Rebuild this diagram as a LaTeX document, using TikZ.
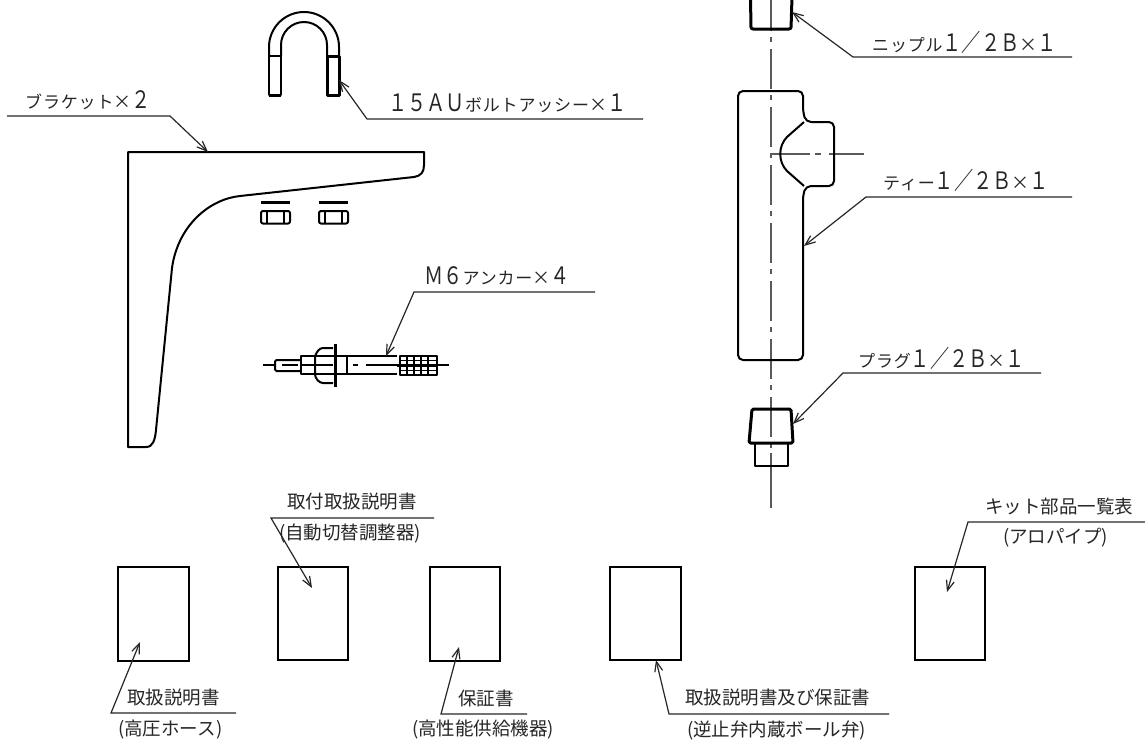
\documentclass[tikz,border=0pt]{standalone}
\usepackage{fontspec}
\usetikzlibrary{arrows.meta}
\newfontfamily\jpfont{Noto Sans CJK JP}
\newfontfamily\jpspaced[LetterSpace=5]{Noto Sans CJK JP}
\newfontfamily\jpnarrow[FakeStretch=0.8]{Noto Sans CJK JP}
\newcommand{\kana}[1]{{\fontsize{17}{18}\jpspaced #1}}
\newcommand{\wide}[1]{{\fontsize{24}{26}\jpnarrow #1}}
\newcommand{\mult}{{\fontsize{18}{20}\jpfont ×}}
\tikzset{
  part/.style={line width=2pt, line join=round},
  heavy/.style={line width=3pt, line join=round},
  center line/.style={line width=1.4pt, black!65},
  leader/.style={line width=1.2pt, black!85, -{Straight Barb[length=10pt,width=8pt]}},
  docbox/.style={draw, line width=2pt, minimum width=70pt, minimum height=93pt, inner sep=0pt},
  label/.style={inner sep=0pt, font=\fontsize{18.5}{20}\jpfont, black!85}
}
\begin{document}
\begin{tikzpicture}[x=1pt,y=-1pt]
\useasboundingbox (0,0) rectangle (1145,744);

% U bolt
\draw[part] (269,56) -- (269,47) arc (180:360:35) -- (339,56);
\draw[part] (281,56) -- (281,45) arc (180:360:23) -- (327,56);
\draw[part] (269,56) rectangle (281,95);
\draw[heavy] (327,56) rectangle (339,95);
\draw[heavy] (269,95) -- (281,95);

% bracket
\draw[part] (128,152) -- (424,152) -- (424,165) .. controls (424,172) and (421,176) .. (414,177)
  -- (240,196) .. controls (210,199) and (178,225) .. (172,268)
  -- (156,430) .. controls (155,440) and (153,447) .. (146,447) -- (128,447) -- cycle;

% nuts
\foreach \nx in {261,319} {
  \draw[heavy] (\nx,202) -- (\nx+29,202);
  \draw[part, rounded corners=2pt] (\nx,211) rectangle (\nx+29,223.5);
  \draw[part] (\nx+6,211) -- (\nx+6,223.5) (\nx+23,211) -- (\nx+23,223.5);
}

% anchor
\draw[part, rounded corners=1.5pt] (301,360) -- (275,360) -- (275,371) -- (301,371);
\draw[part] (301,356) rectangle (347,374);
\draw[part] (347,356) -- (397,356) (347,374) -- (397,374);
\draw[part, rounded corners=3pt] (333,348) -- (320,348) -- (315,355) -- (315,377) -- (320,383) -- (333,383);
\draw[part] (316,365) -- (333,365);
\draw[heavy] (335,344) -- (335,387);
\draw[part] (400,356) rectangle (437,375);
\foreach \rx in {407,414,421,428}
  \draw[part] (\rx,356) -- (\rx,375);
\draw[line width=1pt] (400,360.5) -- (437,360.5) (400,370.5) -- (437,370.5);
\draw[line width=3pt] (397,365.5) -- (437,365.5);
\draw[line width=1.2pt] (263,365) -- (275,365) (282,365) -- (298,365) (302,365) -- (315,365)
  (353,365) -- (358,365) (366,365) -- (397,365) (437,365) -- (449,365);

% pipe centre lines
\draw[center line, dash pattern=on 40pt off 6pt on 5pt off 7pt] (771,-9) -- (771,450);
\draw[center line] (771,453) -- (771,508);
\draw[center line, dash pattern=on 39pt off 5pt on 6pt off 8pt] (771,154) -- (864,154);

% nipple
\draw[heavy, rounded corners=2pt] (750.5,-3) -- (751,29) -- (791,29) -- (792,-3);

% tee
\draw[part, rounded corners=5pt] (771,91) -- (738,91) -- (738,360) -- (803,360) -- (803,195)
  -- (806,186) -- (834,186) -- (834,122) -- (806,122) -- (803,112) -- (803,91) -- cycle;
\draw[part] (804,122) -- (787,137) .. controls (778,146) and (778,162) .. (787,171) -- (804,186);

% plug
\draw[heavy, rounded corners=1.5pt] (749,443) -- (752,409) -- (791,409) -- (793,443) -- cycle;
\draw[part] (755,443) -- (755,466) -- (788,466) -- (788,443);

% documents
\node[docbox, minimum width=71pt, minimum height=94pt] (doca) at (153.8,614) {};
\node[docbox] (docb) at (313.3,613.5) {};
\node[docbox, minimum height=94pt] (docc) at (465,614) {};
\node[docbox, minimum width=71pt] (docd) at (645.5,613.5) {};
\node[docbox] (doce) at (950,613.5) {};

% labels
\node[label, anchor=west] (lbracket) at (25,100) {\kana{ブラケット}\mult\wide{２}};
\node[label, anchor=west] (lubolt) at (388,103) {\wide{１５ＡＵ}\kana{ボルトアッシー}\mult\wide{１}};
\node[label, anchor=west] (lanchor) at (424,276) {\wide{Ｍ６}\kana{アンカー}\mult\wide{４}};
\node[label, anchor=west] (lnipple) at (872,42) {\kana{ニップル}\wide{１／２Ｂ}\mult\wide{１}};
\node[label, anchor=west] (ltee) at (883,180) {\kana{ティー}\wide{１／２Ｂ}\mult\wide{１}};
\node[label, anchor=west] (lplug) at (858,358) {\kana{プラグ}\wide{１／２Ｂ}\mult\wide{１}};
\node[label, anchor=west] (ldoca) at (127,698) {取扱説明書};
\node[label, anchor=west] (ldocaa) at (118,730) {(高圧ホース)};
\node[label, anchor=west] (ldocb) at (287,502) {取付取扱説明書};
\node[label, anchor=west] (ldocbb) at (279,534) {(自動切替調整器)};
\node[label, anchor=west] (ldocc) at (458,698) {保証書};
\node[label, anchor=west] (ldoccc) at (412,730) {(高性能供給機器)};
\node[label, anchor=west] (ldocd) at (685,698) {取扱説明書及び保証書};
\node[label, anchor=west] (ldocdd) at (687,730) {(逆止弁内蔵ボール弁)};
\node[label, anchor=west] (ldoce) at (985,506) {キット部品一覧表};
\node[label, anchor=west] (ldocee) at (1003,538) {(アロパイプ)};

% leaders
\coordinate (bracketfree) at (7,116);
\coordinate (bracketknee) at (170,116);
\coordinate (brackettip) at (208,152);
\draw[leader] (bracketfree) -- (bracketknee) -- (brackettip);
\coordinate (uboltfree) at (643,119);
\coordinate (uboltknee) at (367,119);
\coordinate (ubolttip) at (339,80);
\draw[leader] (uboltfree) -- (uboltknee) -- (ubolttip);
\coordinate (anchorfree) at (595,292);
\coordinate (anchorknee) at (414,292);
\coordinate (anchortip) at (386,356);
\draw[leader] (anchorfree) -- (anchorknee) -- (anchortip);
\coordinate (nipplefree) at (1072,57);
\coordinate (nippleknee) at (853,57);
\coordinate (nippletip) at (792,12);
\draw[leader] (nipplefree) -- (nippleknee) -- (nippletip);
\coordinate (teefree) at (1072,197);
\coordinate (teeknee) at (866,197);
\coordinate (teetip) at (804,246);
\draw[leader] (teefree) -- (teeknee) -- (teetip);
\coordinate (plugfree) at (1041,373);
\coordinate (plugknee) at (843,373);
\coordinate (plugtip) at (793,424);
\draw[leader] (plugfree) -- (plugknee) -- (plugtip);
\coordinate (docafree) at (236,713);
\coordinate (docaknee) at (111,713);
\coordinate (docatip) at (140,642);
\draw[leader] (docafree) -- (docaknee) -- (docatip);
\coordinate (docbfree) at (434,518);
\coordinate (docbknee) at (271,518);
\coordinate (docbtip) at (312,588);
\draw[leader] (docbfree) -- (docbknee) -- (docbtip);
\coordinate (doccfree) at (527,714);
\coordinate (doccknee) at (441,714);
\coordinate (docctip) at (459,647);
\draw[leader] (doccfree) -- (doccknee) -- (docctip);
\coordinate (docdfree) at (889,714);
\coordinate (docdknee) at (669,714);
\coordinate (docdtip) at (656,660);
\draw[leader] (docdfree) -- (docdknee) -- (docdtip);
\coordinate (docefree) at (1145,522);
\coordinate (doceknee) at (968,522);
\coordinate (docetip) at (947,592);
\draw[leader] (docefree) -- (doceknee) -- (docetip);
\end{tikzpicture}
\end{document}
